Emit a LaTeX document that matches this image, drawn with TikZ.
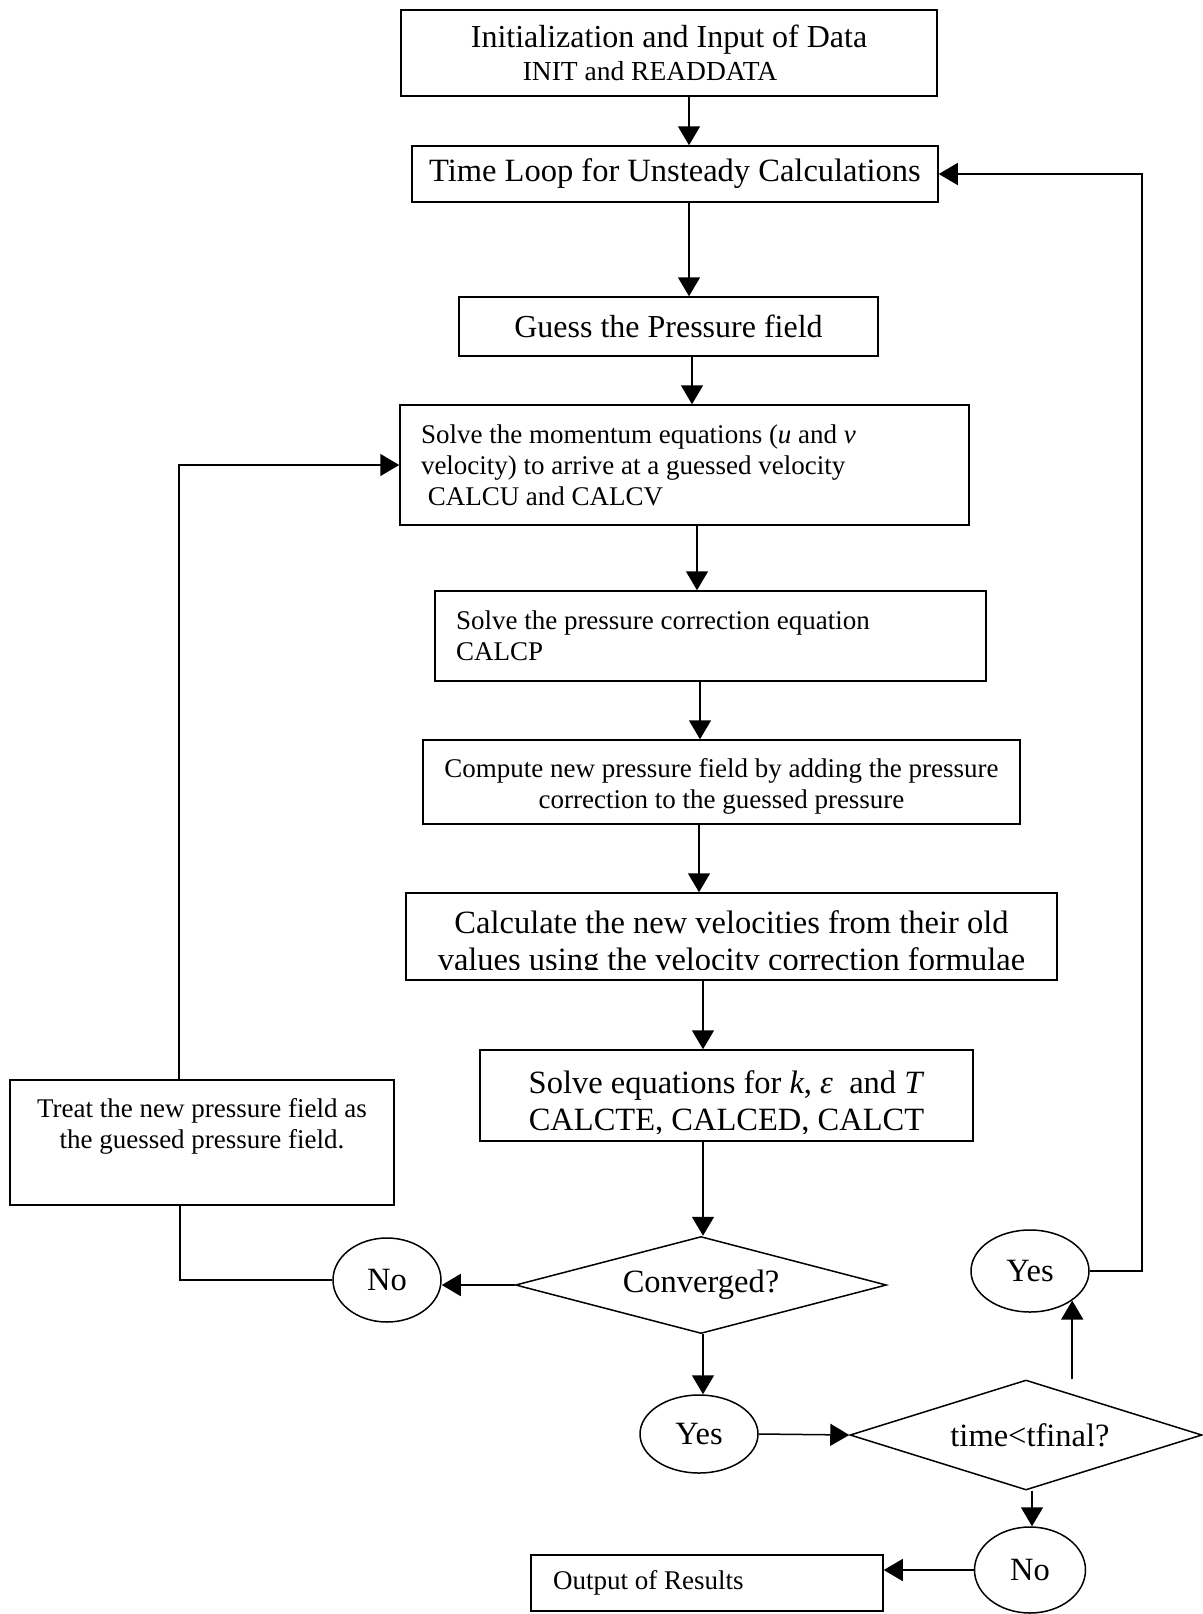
\documentclass[tikz,border=0pt]{standalone}
\usepackage{fontspec}
\setmainfont{Liberation Serif}
\usetikzlibrary{shapes.geometric,arrows.meta}

\newcommand{\bigfont}{\fontsize{32.5}{37}\selectfont}
\newcommand{\smallfont}{\fontsize{27}{31}\selectfont}

\tikzset{
  flowbox/.style={draw, line width=1.5pt, inner sep=0pt, align=center},
  oval/.style={draw, ellipse, line width=1.5pt, inner sep=0pt, font=\bigfont},
  decide/.style={draw, diamond, line width=1.5pt, inner sep=0pt, font=\bigfont},
  arr/.style={line width=1.5pt, -{Triangle[length=19pt,width=22pt]}},
  link/.style={line width=1.5pt},
}

\begin{document}
\begin{tikzpicture}[x=1pt, y=-1pt]
    \useasboundingbox (0,0) rectangle (1202,1614);

    % Boxes down the middle
    \node[flowbox, minimum width=536, minimum height=86] (init) at (669,53)
        {\fontsize{32}{34}\selectfont Initialization and Input of Data\\[6pt]
         \fontsize{27.5}{30}\selectfont INIT and READDATA\hspace*{38pt}};
    \node[flowbox, minimum width=526, minimum height=56, font=\bigfont] (tloop) at (675,174)
        {Time Loop for Unsteady Calculations};
    \node[flowbox, minimum width=419, minimum height=59, font=\fontsize{32}{37}\selectfont] (guess) at (668.5,326.5)
        {Guess the Pressure field};
    \node[flowbox, minimum width=569, minimum height=120, text width=527, align=flush left, font=\smallfont] (mom) at (684.5,465)
        {Solve the momentum equations (\textit{u} and \textit{v}\\
         velocity) to arrive at a guessed velocity\\
         \ CALCU and CALCV};
    \node[flowbox, minimum width=551, minimum height=90, text width=509, align=flush left, font=\smallfont] (pcorr) at (710.5,636)
        {Solve the pressure correction equation\\ CALCP\\[6pt]};
    \node[flowbox, minimum width=597, minimum height=84, font=\smallfont] (newp) at (721.5,782)
        {\\[-4pt]Compute new pressure field by adding the pressure\\ correction to the guessed pressure};
    \node[flowbox, minimum width=651, minimum height=87] (calcv) at (731.5,936.5) {};
    \node[flowbox, minimum width=493, minimum height=91] (keqs) at (726.5,1095.5) {};

    % Text cut off at the bottom of the two boxes
    \begin{scope}
        \clip ([yshift=11]calcv.south west) rectangle (calcv.north east);
        \node[align=center, font=\bigfont] (calcvtxt) at ([yshift=-8]calcv.center)
            {Calculate the new velocities from their old\\ values using the velocity correction formulae};
    \end{scope}
    \begin{scope}
        \clip ([yshift=8]keqs.south west) rectangle (keqs.north east);
        \node[align=center, font=\bigfont] (keqstxt) at ([yshift=-8]keqs.center)
            {Solve equations for \textit{k}, \textit{ε}\ \ and \textit{T}\\ CALCTE, CALCED, CALCT};
    \end{scope}

    % Left box and output
    \node[flowbox, minimum width=384, minimum height=125, font=\smallfont] (treat) at (202,1142.5)
        {Treat the new pressure field as\\ the guessed pressure field.\\[8pt] \mbox{}};
    \node[flowbox, minimum width=352, minimum height=56, text width=308, align=flush left, font=\smallfont] (output) at (707,1583)
        {Output of Results};

    % Decisions
    \node[decide, aspect=3.82, minimum width=371, minimum height=97] (conv) at (701,1285) {Converged?};
    \node[decide, aspect=3.2, minimum width=352, minimum height=110] (tdiam) at (1026,1435) {\hspace*{8pt}time<tfinal?};

    % Answers
    \node[oval, minimum width=108, minimum height=84] (noL) at (387,1280) {No};
    \node[oval, minimum width=118, minimum height=82] (yesR) at (1030,1271) {Yes};
    \node[oval, minimum width=118, minimum height=78] (yesB) at (699,1434) {Yes};
    \node[oval, minimum width=111, minimum height=86] (noB) at (1030,1570) {No};
    \coordinate (rtrn) at (1142,0);

    % Main flow
    \draw[arr] ([xshift=20]init.south) -- ([xshift=20]init.south |- tloop.north);
    \draw[arr] ([xshift=14]tloop.south) -- ([xshift=14]tloop.south |- guess.north);
    \draw[arr] ([xshift=23.5]guess.south) -- ([xshift=23.5]guess.south |- mom.north);
    \draw[arr] ([xshift=12.5]mom.south) -- ([xshift=12.5]mom.south |- pcorr.north);
    \draw[arr] ([xshift=-10.5]pcorr.south) -- ([xshift=-10.5]pcorr.south |- newp.north);
    \draw[arr] ([xshift=-22.5]newp.south) -- ([xshift=-22.5]newp.south |- calcv.north);
    \draw[arr] ([xshift=-28.5]calcv.south) -- ([xshift=-28.5]calcv.south |- keqs.north);
    \draw[arr] ([xshift=-23.5]keqs.south) -- ([xshift=-23.5]keqs.south |- conv.north);
    \draw[arr] ([xshift=2]conv.south) -- ([xshift=2]conv.south |- yesB.north);

    % Pressure loop
    \draw[arr] (conv.west) -- (conv.west -| noL.east);
    \draw[link] (noL.west) -| ([xshift=-22]treat.south);
    \draw[arr] ([xshift=-23]treat.north) |- (mom.west);

    % Time loop
    \draw[arr] (yesB.east) -- (tdiam.west);
    \draw[arr] (tdiam.north -| yesR.-35) -- (yesR.-35);
    \draw[arr] (yesR.east) -- (yesR.east -| rtrn) |- (tloop.east);
    \draw[arr] ([xshift=6]tdiam.south) -- ([xshift=6]tdiam.south |- noB.north);
    \draw[arr] (noB.west) -- (noB.west -| output.east);
\end{tikzpicture}
\end{document}
